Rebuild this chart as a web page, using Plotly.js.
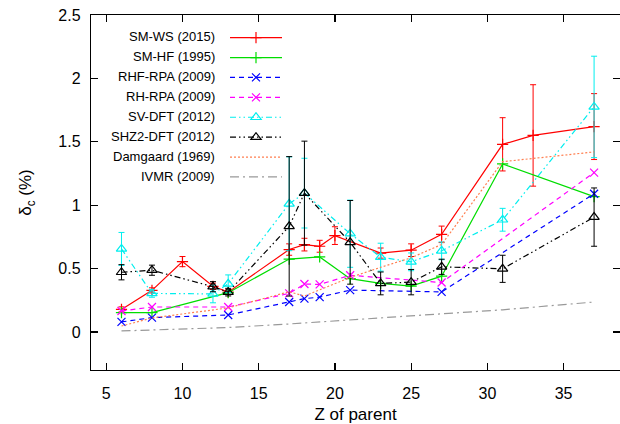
<!DOCTYPE html>
<html>
<head>
<meta charset="utf-8">
<script src="https://cdn.plot.ly/plotly-3.0.1.min.js"></script>
<style>html,body{margin:0;padding:0;background:#fff;overflow:hidden}#chart{width:620px;height:424px}</style>
</head>
<body>
<div id="chart"></div>
<script>
// ---- data ----
var seriesNames = ["SM-WS (2015)", "SM-HF (1995)", "RHF-RPA (2009)", "RH-RPA (2009)",
                   "SV-DFT (2012)", "SHZ2-DFT (2012)", "Damgaard (1969)", "IVMR (2009)"];

var smwsZ   = [6, 8, 10, 12, 13, 17, 18, 19, 20, 23, 25, 27, 31, 33, 37];
var smwsV   = [0.178, 0.328, 0.555, 0.36, 0.314, 0.65, 0.689, 0.676, 0.76, 0.622, 0.645, 0.77, 1.48, 1.55, 1.62];
var smwsErr = [0.02, 0.02, 0.04, 0.025, 0.02, 0.045, 0.05, 0.047, 0.07, 0.04, 0.05, 0.065, 0.21, 0.40, 0.26];

var smhfZ = [6, 8, 13, 17, 19, 21, 23, 25, 27, 31, 37];
var smhfV = [0.152, 0.152, 0.31, 0.575, 0.592, 0.42, 0.383, 0.362, 0.44, 1.325, 1.068];

var rhfZ = [6, 8, 13, 17, 18, 19, 21, 27, 37];
var rhfV = [0.079, 0.113, 0.134, 0.236, 0.263, 0.275, 0.33, 0.316, 1.09];

var rhZ = [6, 8, 13, 17, 18, 19, 21, 27, 37];
var rhV = [0.165, 0.197, 0.197, 0.304, 0.378, 0.375, 0.447, 0.39, 1.257];

var svZ   = [6, 8, 12, 13, 17, 18, 21, 23, 25, 27, 31, 37];
var svV   = [0.655, 0.304, 0.3, 0.38, 1.011, 1.095, 0.775, 0.59, 0.553, 0.64, 0.885, 1.775];
var svErr = [0.13, 0.03, 0.07, 0.07, 0.37, 0.275, 0.265, 0.11, 0.07, 0.07, 0.09, 0.40];

var shzZ   = [6, 8, 12, 13, 17, 18, 21, 23, 25, 27, 31, 37];
var shzV   = [0.471, 0.487, 0.357, 0.314, 0.833, 1.095, 0.707, 0.383, 0.393, 0.514, 0.498, 0.906];
var shzErr = [0.06, 0.04, 0.04, 0.03, 0.55, 0.41, 0.33, 0.09, 0.10, 0.06, 0.107, 0.23];

var damZ = [6, 8, 13, 17, 18, 21, 23, 25, 27, 31, 37];
var damV = [0.047, 0.11, 0.19, 0.317, 0.283, 0.43, 0.51, 0.585, 0.69, 1.343, 1.42];

var ivmrZ = [6, 13, 17, 21, 27, 31, 37];
var ivmrV = [0.008, 0.035, 0.063, 0.095, 0.145, 0.175, 0.236];

var xTicks = [5, 10, 15, 20, 25, 30, 35];
var yTicks = [0, 0.5, 1, 1.5, 2, 2.5];
var yTickText = ["0", "0.5", "1", "1.5", "2", "2.5"];

// ---- styling ----
var dashDotDot = "6px,3px,1.5px,3px,1.5px,3px";
function errBar(arr, color) {
  return {type: "data", array: arr, visible: true, color: color, thickness: 1, width: 3};
}
var traces = [
  {x: smwsZ, y: smwsV, error_y: errBar(smwsErr, "#ff0000"),
   line: {color: "#ff0000", width: 1.2}, marker: {symbol: "cross-thin-open", size: 8, color: "#ff0000", line: {width: 1.2, color: "#ff0000"}}},
  {x: smhfZ, y: smhfV,
   line: {color: "#00dd00", width: 1.2}, marker: {symbol: "cross-thin-open", size: 8, color: "#00dd00", line: {width: 1.2, color: "#00dd00"}}},
  {x: rhfZ, y: rhfV,
   line: {color: "#0000ff", width: 1.2, dash: "5px,4px"}, marker: {symbol: "x-thin-open", size: 8, color: "#0000ff", line: {width: 1.2, color: "#0000ff"}}},
  {x: rhZ, y: rhV,
   line: {color: "#ff00ff", width: 1.2, dash: "5px,4px"}, marker: {symbol: "x-thin-open", size: 8, color: "#ff00ff", line: {width: 1.2, color: "#ff00ff"}}},
  {x: svZ, y: svV, error_y: errBar(svErr, "#00eeee"),
   line: {color: "#00eeee", width: 1.2, dash: dashDotDot}, marker: {symbol: "triangle-up-open", size: 9, color: "#00eeee", line: {width: 1.2, color: "#00eeee"}}},
  {x: shzZ, y: shzV, error_y: errBar(shzErr, "#000000"),
   line: {color: "#000000", width: 1.2, dash: dashDotDot}, marker: {symbol: "triangle-up-open", size: 9, color: "#000000", line: {width: 1.2, color: "#000000"}}},
  {x: damZ, y: damV, mode: "lines",
   line: {color: "#ff7f50", width: 1.2, dash: "2px,2px"}},
  {x: ivmrZ, y: ivmrV, mode: "lines",
   line: {color: "#999999", width: 1.2, dash: "9px,4px,2px,4px"}}
];
traces.forEach(function (t, i) {
  if (!t.mode) t.mode = "lines+markers";
  t.type = "scatter";
  t.name = " ";
  t.hovertext = seriesNames[i];
  t.showlegend = true;
});

// legend labels (text on the left of the samples, gnuplot style)
var plotTop = 15, plotBottom = 370;
var annotations = seriesNames.map(function (n, i) {
  var py = 36.7 + 20 * i;
  return {text: n, xref: "paper", yref: "paper", x: (216.7 - 91) / 529, y: (plotBottom - py) / (plotBottom - plotTop),
          xanchor: "right", yanchor: "middle", showarrow: false,
          font: {family: "Liberation Sans, Arial, sans-serif", size: 13, color: "#000"}};
});

var axisCommon = {
  showgrid: false, zeroline: false, showline: true, linecolor: "#000", linewidth: 1.2,
  mirror: "ticks", ticks: "inside", ticklen: 7, tickwidth: 1.2, tickcolor: "#000",
  tickfont: {family: "Liberation Sans, Arial, sans-serif", size: 16, color: "#000"}
};

var layout = {
  width: 620, height: 424,
  margin: {l: 91, r: 0, t: 15, b: 54},
  paper_bgcolor: "#fff", plot_bgcolor: "#fff",
  font: {family: "Liberation Sans, Arial, sans-serif", color: "#000"},
  xaxis: Object.assign({}, axisCommon, {
    range: [4, 38.7], tickvals: xTicks, ticklabelstandoff: 9,
    title: {text: "Z of parent", font: {size: 17}, standoff: 8}
  }),
  yaxis: Object.assign({}, axisCommon, {
    range: [-0.3, 2.5], tickvals: yTicks, ticktext: yTickText, ticklabelstandoff: 6,
    title: {text: "δ<sub>c</sub> (%)", font: {size: 17}, standoff: 22}
  }),
  showlegend: true,
  legend: {x: (225 - 91) / 529, y: (plotBottom - 22.7) / (plotBottom - plotTop), xanchor: "left", yanchor: "top",
           bgcolor: "rgba(0,0,0,0)", borderwidth: 0, itemwidth: 52, tracegroupgap: 0,
           font: {size: 13}},
  annotations: annotations
};

Plotly.newPlot("chart", traces, layout, {displayModeBar: false, staticPlot: true});
</script>
</body>
</html>
